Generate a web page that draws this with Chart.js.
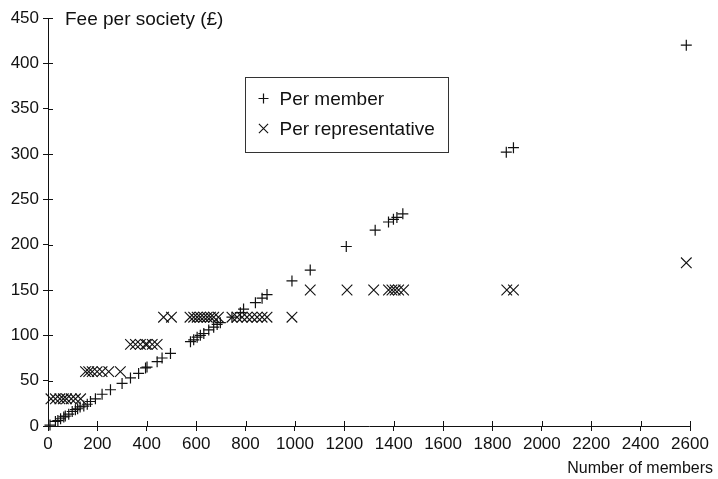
<!DOCTYPE html>
<html>
<head>
<meta charset="utf-8">
<script src="https://cdn.jsdelivr.net/npm/chart.js@4/dist/chart.umd.min.js"></script>
<style>
  html, body { margin: 0; padding: 0; background: #fff; }
  #wrap { width: 718px; height: 479px; }
</style>
</head>
<body>
<div id="wrap"><canvas id="c" width="718" height="479"></canvas></div>
<script>
// Societies: membership size and the annual fee charged per member
const memberCounts = [8, 30, 40, 51, 64, 70, 84, 98, 111, 120, 130, 145, 159, 172, 192, 219, 253, 300, 334, 367, 395, 401, 442, 462, 496,
  577, 590, 604, 617, 631, 651, 671, 685, 698, 745, 779, 792, 840, 867, 887, 988, 1062, 1208, 1325, 1379, 1399, 1413, 1437, 1856, 1885, 2585];
const feePerMember = [1, 5, 6, 8, 10, 11, 13, 16, 18, 19, 21, 22, 24, 27, 30, 35, 40, 47, 53, 58, 64, 65, 71, 75, 80,
  93, 95, 98, 100, 102, 106, 109, 112, 114, 120, 125, 129, 136, 141, 145, 160, 172, 198, 216, 225, 228, 230, 234, 302, 307, 420];

// The same societies charged per representative (stepped fee bands)
const repMemberCounts = [12, 30, 48, 62, 75, 94, 111, 132,
  152, 165, 179, 199, 219, 246, 293,
  334, 354, 374, 395, 401, 422, 442,
  468, 500, 575, 590, 604, 617, 631, 645, 658, 671, 690, 745, 766, 786, 806, 826, 847, 867, 887, 988,
  1062, 1211, 1319, 1379, 1393, 1406, 1420, 1440, 1858, 1885,
  2585];
const feePerRepresentative = [30, 30, 30, 30, 30, 30, 30, 30,
  60, 60, 60, 60, 60, 60, 60,
  90, 90, 90, 90, 90, 90, 90,
  120, 120, 120, 120, 120, 120, 120, 120, 120, 120, 120, 120, 120, 120, 120, 120, 120, 120, 120, 120,
  150, 150, 150, 150, 150, 150, 150, 150, 150, 150,
  180];

const xTickValues = [0, 200, 400, 600, 800, 1000, 1200, 1400, 1600, 1800, 2000, 2200, 2400, 2600];
const yTickValues = [0, 50, 100, 150, 200, 250, 300, 350, 400, 450];

const seriesNames = ['Per member', 'Per representative'];
const yTitle = 'Fee per society (\u00A3)';
const xTitle = 'Number of members';

const FONT = '"Liberation Sans", Arial, Helvetica, sans-serif';
const INK = '#111';

const toPoints = (xs, ys) => xs.map((x, i) => ({ x, y: ys[i] }));

// Tick marks that also reach a few pixels into the plot area
const innerTicks = {
  id: 'innerTicks',
  afterDatasetsDraw(chart) {
    const { ctx, chartArea, scales } = chart;
    ctx.save();
    ctx.strokeStyle = INK;
    ctx.lineWidth = 1;
    ctx.beginPath();
    scales.x.ticks.forEach(t => {
      const px = Math.round(scales.x.getPixelForValue(t.value)) + 0.5;
      ctx.moveTo(px, chartArea.bottom);
      ctx.lineTo(px, chartArea.bottom - 5);
    });
    scales.y.ticks.forEach(t => {
      const py = Math.round(scales.y.getPixelForValue(t.value)) + 0.5;
      ctx.moveTo(chartArea.left, py);
      ctx.lineTo(chartArea.left + 5, py);
    });
    ctx.stroke();
    ctx.restore();
  }
};

// Axis captions and the boxed key inside the plot
const captions = {
  id: 'captions',
  afterDraw(chart) {
    const { ctx, chartArea, width } = chart;
    ctx.save();
    ctx.fillStyle = INK;
    ctx.textBaseline = 'alphabetic';
    ctx.font = '19px ' + FONT;
    ctx.textAlign = 'left';
    ctx.fillText(yTitle, chartArea.left + 17, 25);
    ctx.font = '16px ' + FONT;
    ctx.textAlign = 'right';
    ctx.fillText(xTitle, width - 5, 473);

    // key box
    const bx = 245.5, by = 77.5, bw = 203, bh = 75;
    ctx.strokeStyle = '#333';
    ctx.lineWidth = 1;
    ctx.fillStyle = '#fff';
    ctx.fillRect(bx, by, bw, bh);
    ctx.strokeRect(bx, by, bw, bh);
    ctx.font = '19px ' + FONT;
    ctx.textAlign = 'left';
    ctx.textBaseline = 'middle';
    chart.data.datasets.forEach((ds, i) => {
      const cy = by + 21 + i * 30;
      ctx.strokeStyle = ds.borderColor;
      ctx.lineWidth = ds.borderWidth;
      Chart.helpers.drawPoint(ctx, {
        pointStyle: ds.pointStyle,
        radius: ds.pointStyle === 'crossRot' ? 6.5 : 5,
        rotation: 0,
        borderWidth: ds.borderWidth
      }, bx + 18, cy);
      ctx.fillStyle = INK;
      ctx.fillText(ds.label, bx + 34, cy + 1);
    });
    ctx.restore();
  }
};

new Chart(document.getElementById('c'), {
  type: 'scatter',
  data: {
    datasets: [
      {
        label: seriesNames[0],
        data: toPoints(memberCounts, feePerMember),
        pointStyle: 'cross',
        pointRadius: 5.5,
        borderColor: INK,
        backgroundColor: INK,
        borderWidth: 1.2,
        clip: false
      },
      {
        label: seriesNames[1],
        data: toPoints(repMemberCounts, feePerRepresentative),
        pointStyle: 'crossRot',
        pointRadius: 7.5,
        borderColor: INK,
        backgroundColor: INK,
        borderWidth: 1.1,
        clip: false
      }
    ]
  },
  options: {
    responsive: false,
    animation: false,
    devicePixelRatio: 1,
    layout: { padding: { top: 18, right: 28, left: 0, bottom: 0 } },
    plugins: {
      legend: { display: false },
      tooltip: { enabled: false }
    },
    scales: {
      x: {
        type: 'linear',
        min: 0,
        max: 2600,
        afterBuildTicks: s => { s.ticks = xTickValues.map(v => ({ value: v })); },
        afterFit: s => { s.height = 53; },
        border: { color: INK, width: 1 },
        grid: { drawOnChartArea: false, drawTicks: true, tickLength: 5, color: INK, tickColor: INK },
        ticks: { color: INK, font: { family: FONT, size: 17 }, padding: 3, maxRotation: 0, autoSkip: false,
                 callback: v => String(v) }
      },
      y: {
        type: 'linear',
        min: 0,
        max: 450,
        afterBuildTicks: s => { s.ticks = yTickValues.map(v => ({ value: v })); },
        afterFit: s => { s.width = 48; },
        border: { color: INK, width: 1 },
        grid: { drawOnChartArea: false, drawTicks: true, tickLength: 5, color: INK, tickColor: INK },
        ticks: { color: INK, font: { family: FONT, size: 17 }, padding: 4, autoSkip: false,
                 callback: v => String(v) }
      }
    }
  },
  plugins: [innerTicks, captions]
});
</script>
</body>
</html>
